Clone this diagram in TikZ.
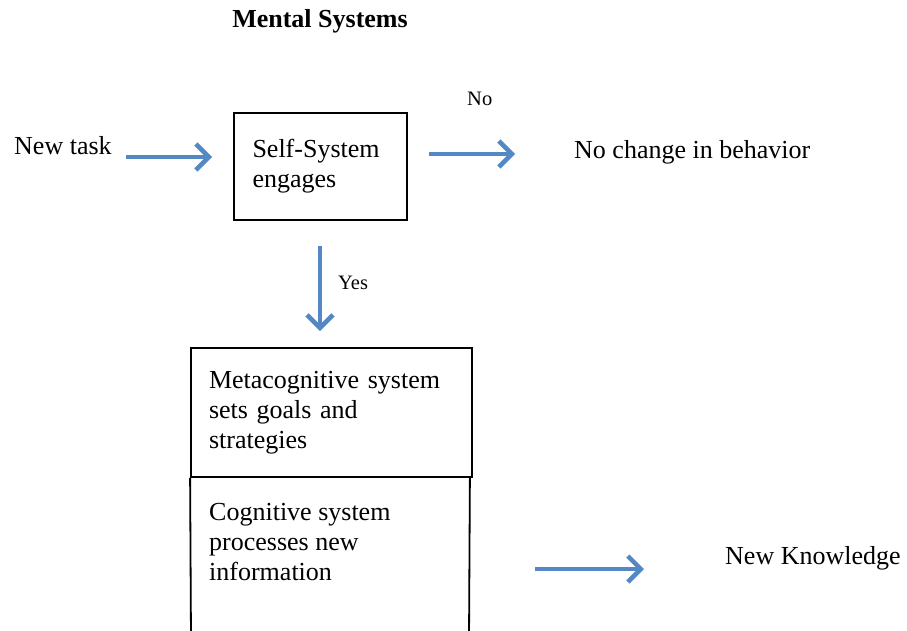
\documentclass[tikz,border=0pt]{standalone}
\usepackage{fontspec}
\setmainfont{Liberation Serif}
\usetikzlibrary{arrows.meta,calc}
\definecolor{arrblue}{RGB}{84,136,196}
\begin{document}
\begin{tikzpicture}[x=1pt,y=-1pt,
  big/.style={font=\fontsize{26}{30}\selectfont},
  small/.style={font=\fontsize{20.5}{24}\selectfont},
  txt/.style={big,inner sep=0pt,anchor=west,align=left},
  lbl/.style={small,inner sep=0pt,anchor=west},
  boxnode/.style={draw,line width=1.8pt,big,align=left,inner xsep=18pt,inner ysep=0pt},
  boxline/.style={line width=1.8pt},
  arr/.style={draw=arrblue,line width=4.5pt,-{Straight Barb[length=13pt,width=26pt]}}]
\useasboundingbox (0,0) rectangle (907,630);
\node[font=\fontsize{26}{30}\selectfont\bfseries] (title) at (320,21) {Mental Systems};
\node[txt] (newtask) at (14,146) {New task};
\node[boxnode,text width=136pt,minimum width=173pt,minimum height=107pt] (self) at (320.5,166.5) {Self-System\\engages};
\node[txt] (nochange) at (574,152) {No change in behavior};
\node[lbl] (no) at (467,99) {No};
\node[lbl] (yes) at (338,283) {Yes};
\node[boxnode,text width=245pt,minimum width=281pt,minimum height=129pt] (meta) at (331.5,412.5) {Metacognitive system\\sets goals and\\strategies};
\node[txt] (cog) at (209,542) {Cognitive system\\processes new\\information};
\draw[boxline] (meta.south west) -- (191,640);
\draw[boxline] ([xshift=-3pt]meta.south east) -- (469,640);
\coordinate (cogR) at (469,569);
\node[txt] (newknow) at (725,558) {New Knowledge};
\draw[arr] ($(newtask.east)+(14,11)$) -- ($(self.west)+(-21,-9.5)$);
\draw[arr] ($(self.east)+(21,-12.5)$) -- ($(nochange.west)+(-59,2)$);
\draw[arr] ($(self.south)+(-0.5,25)$) -- ($(meta.north)+(-11.5,-16)$);
\draw[arr] ($(cogR)+(66,0)$) -- ($(newknow.west)+(-81,11)$);
\end{tikzpicture}
\end{document}
